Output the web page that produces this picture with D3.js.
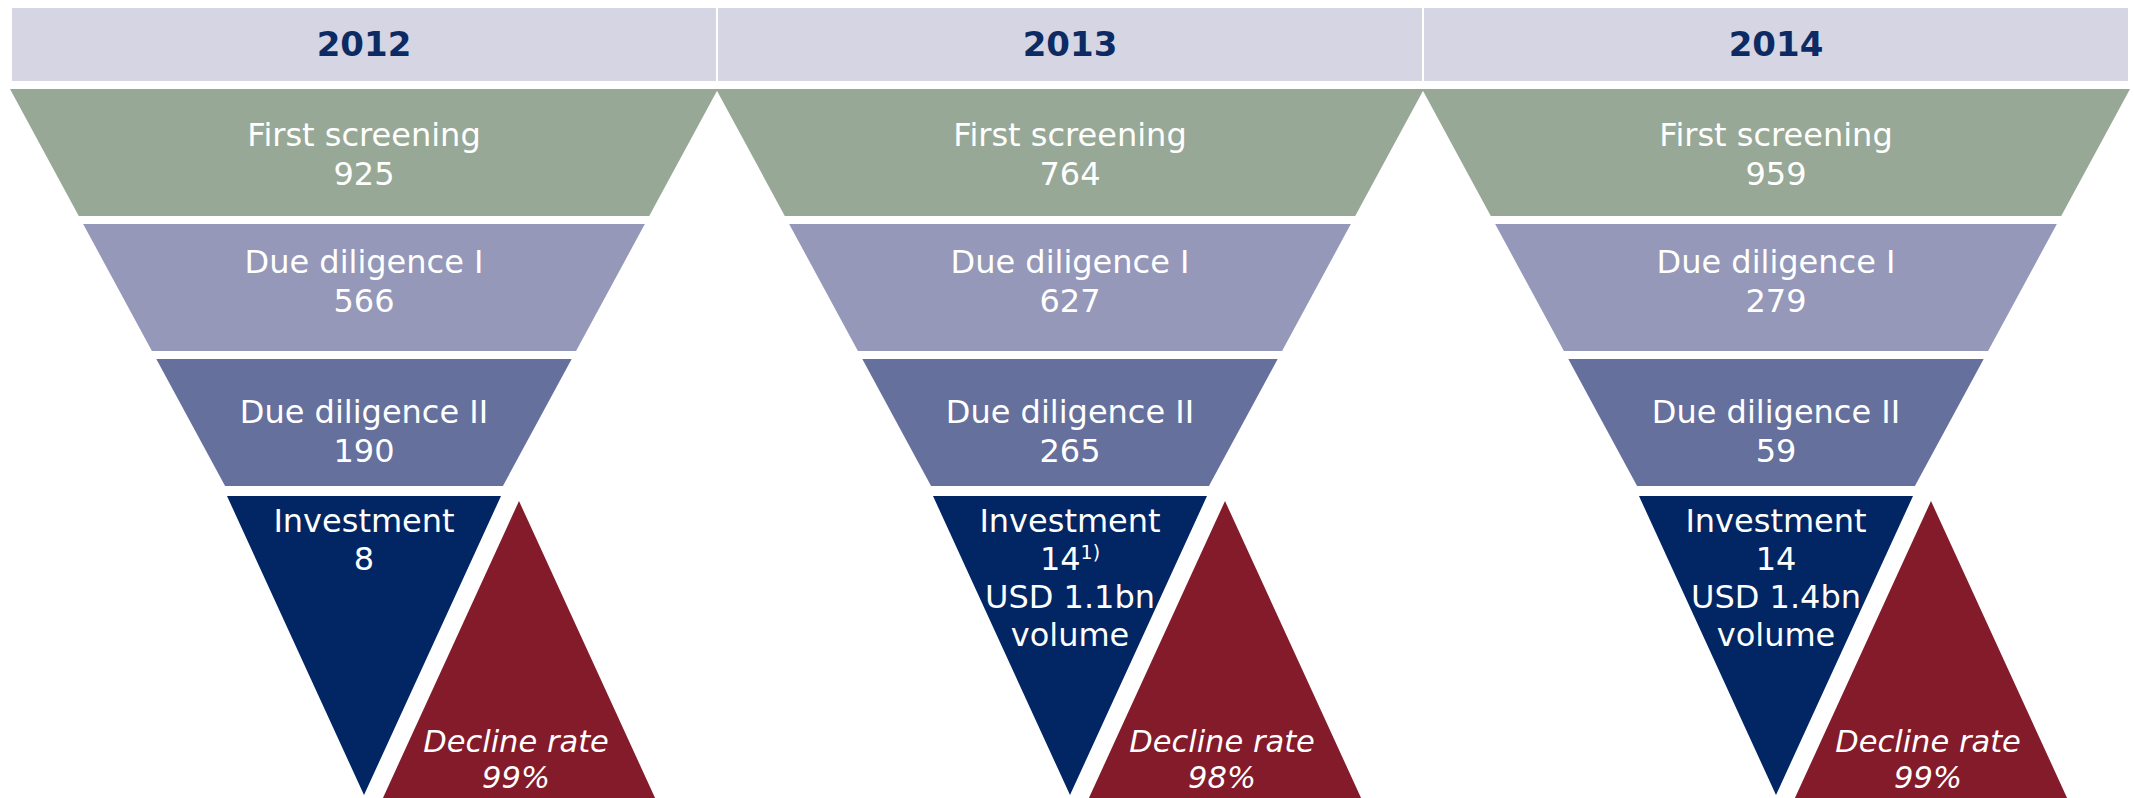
<!DOCTYPE html>
<html lang="en">
<head>
    <meta charset="utf-8"/>
    <title>Deal funnel 2012-2014</title>
    <style>
        body { margin: 0; background: #fff; }
        .year-label {
            font-family: "DejaVu Sans", Verdana, sans-serif;
            font-weight: bold;
            font-size: 34px;
            fill: #0c2a63;
        }
        .stage-label {
            font-family: "DejaVu Sans", Verdana, sans-serif;
            font-size: 32px;
            fill: #fff;
        }
        .decline-label {
            font-family: "DejaVu Sans", Verdana, sans-serif;
            font-style: italic;
            font-size: 30.5px;
            fill: #fff;
        }
    </style>
</head>
<body>
<div class="viz"></div>
<script src="https://cdnjs.cloudflare.com/ajax/libs/d3/7.8.5/d3.min.js"></script>
<script>
    // values
    var years = ["2012", "2013", "2014"];
    var stages = ["First screening", "Due diligence I", "Due diligence II", "Investment"];
    var firstScreening = [925, 764, 959];
    var dueDiligence1 = [566, 627, 279];
    var dueDiligence2 = [190, 265, 59];
    var investments = [8, 14, 14];
    var investmentNotes = ["", "1)", ""];
    var volumes = ["", "USD 1.1bn", "USD 1.4bn"];
    var declineRates = [99, 98, 99];

    var stageColors = ["#98a896", "#9598b8", "#65709d", "#012663"];
    var declineColor = "#841b2b";
    // small vertical nudges for the row labels
    var labelNudge = [0, -9, 6];

    var width = 2134, height = 798;

    var svg = d3.select(".viz").append("svg")
        .attr("width", width)
        .attr("height", height);

    var x = d3.scaleBand()
        .domain(years)
        .range([11, 2129]);

    // header strip
    var headerTop = 8, headerBottom = 81;

    svg.append("g").selectAll("rect")
        .data(years)
        .enter().append("rect")
        .attr("x", function(d) { return x(d) + 1; })
        .attr("y", headerTop)
        .attr("width", x.bandwidth() - 2)
        .attr("height", headerBottom - headerTop)
        .attr("fill", "#d5d5e3");

    svg.append("g").selectAll("text")
        .data(years)
        .enter().append("text")
        .attr("class", "year-label")
        .attr("x", function(d) { return x(d) + x.bandwidth() / 2; })
        .attr("y", 56)
        .attr("text-anchor", "middle")
        .text(function(d) { return d; });

    // funnel rows (the three trapezoids)
    var rows = d3.scaleBand()
        .domain(stages.slice(0, 3))
        .range([89, 486])
        .paddingInner(0.06);

    // half width of the funnel as a function of y
    var halfW = d3.scaleLinear().domain([89, 484]).range([354, 140]);

    var triTop = rows.range()[1] + 10, triBottom = 795;
    var triHalfW = d3.scaleLinear().domain([triTop, triBottom]).range([137, 0]);
    var declineShift = 155, declineTop = 501;

    var line = d3.line();

    var rowValues = [firstScreening, dueDiligence1, dueDiligence2];

    years.forEach(function(year, i) {
        var cx = x(year) + x.bandwidth() / 2;
        var g = svg.append("g").attr("class", "funnel");

        stages.slice(0, 3).forEach(function(stage, j) {
            var y0 = rows(stage), y1 = y0 + rows.bandwidth();
            g.append("path")
                .attr("d", line([
                    [cx - halfW(y0), y0], [cx + halfW(y0), y0],
                    [cx + halfW(y1), y1], [cx - halfW(y1), y1]
                ]) + "Z")
                .attr("fill", stageColors[j]);

            var mid = (y0 + y1) / 2 + labelNudge[j];
            var t = g.append("text")
                .attr("class", "stage-label")
                .attr("text-anchor", "middle");
            t.append("tspan").attr("x", cx).attr("y", mid - 6).text(stage);
            t.append("tspan").attr("x", cx).attr("y", mid + 33).text(rowValues[j][i]);
        });

        // investment triangle
        g.append("path")
            .attr("d", line([
                [cx - triHalfW(triTop), triTop], [cx + triHalfW(triTop), triTop],
                [cx, triBottom]
            ]) + "Z")
            .attr("fill", stageColors[3]);

        var it = g.append("text")
            .attr("class", "stage-label")
            .attr("text-anchor", "middle");
        it.append("tspan").attr("x", cx).attr("y", triTop + 36).text(stages[3]);
        it.append("tspan").attr("x", cx).attr("y", triTop + 74).text(investments[i]);
        if (investmentNotes[i]) {
            it.append("tspan")
                .attr("dy", -11)
                .style("font-size", "19px")
                .text(investmentNotes[i]);
        }
        if (volumes[i]) {
            it.append("tspan").attr("x", cx).attr("y", triTop + 112).text(volumes[i]);
            it.append("tspan").attr("x", cx).attr("y", triTop + 150).text("volume");
        }

        // decline rate triangle (upside down)
        var dx = cx + declineShift;
        var dh = triBottom - triTop;
        g.append("path")
            .attr("d", line([
                [dx, declineTop],
                [dx + triHalfW(triTop), declineTop + dh],
                [dx - triHalfW(triTop), declineTop + dh]
            ]) + "Z")
            .attr("fill", declineColor);

        var dt = g.append("text")
            .attr("class", "decline-label")
            .attr("text-anchor", "middle");
        dt.append("tspan").attr("x", dx - 3).attr("y", height - 46).text("Decline rate");
        dt.append("tspan").attr("x", dx - 3).attr("y", height - 10).text(declineRates[i] + "%");
    });
</script>
</body>
</html>
